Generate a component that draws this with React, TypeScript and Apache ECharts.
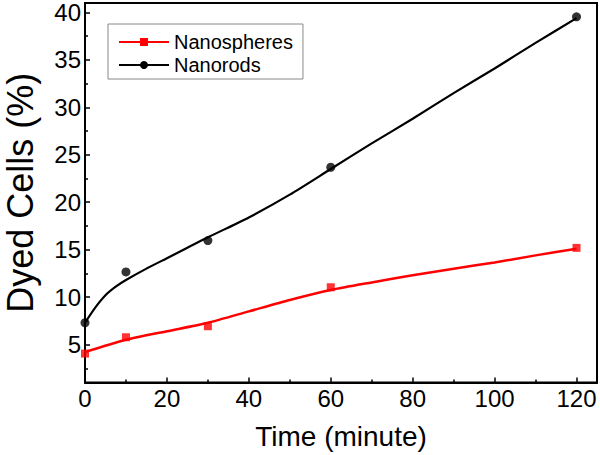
import React, { useEffect, useRef } from "react";
import * as echarts from "echarts";

// Measured data points
const timePoints = [0, 10, 30, 60, 120];
const nanospheresData = [4.05, 5.77, 6.93, 11.04, 15.19];
const nanorodsData = [7.3, 12.66, 15.96, 23.69, 39.54];

// Fitted curves
const sphereFitX = [0, 10, 20, 30, 40, 50, 60, 70, 80, 90, 100, 110, 120];
const sphereFitY = [4.2, 5.5, 6.4, 7.3, 8.5, 9.7, 10.75, 11.55, 12.3, 13.0, 13.65, 14.4, 15.1];
const rodFitX = [0, 2.5, 5, 7.5, 10, 15, 20, 25, 30, 40, 50, 60, 70, 80, 90, 100, 110, 120];
const rodFitY = [7.3, 8.9, 10.2, 11.1, 11.8, 13.0, 14.1, 15.2, 16.3, 18.4, 20.8, 23.5, 26.2, 28.8, 31.5, 34.1, 36.8, 39.4];

// Ticks
const xMajorTicks = [0, 20, 40, 60, 80, 100, 120];
const xMinorTicks = [10, 30, 50, 70, 90, 110];
const yMajorTicks = [5, 10, 15, 20, 25, 30, 35, 40];
const yMinorTicks = [2.5, 7.5, 12.5, 17.5, 22.5, 27.5, 32.5, 37.5];

const seriesNames = ["Nanospheres", "Nanorods"];
const FONT = "'Liberation Sans', Arial, sans-serif";

export default function App() {
  const ref = useRef<HTMLDivElement>(null);
  useEffect(() => {
    if (!ref.current) return;
    const chart = echarts.init(ref.current, null, { renderer: "svg" });
    const zip = (xs: number[], ys: number[]) => xs.map((x, i) => [x, ys[i]]);
    const xCommon = { type: "value", min: 0, max: 125, splitLine: { show: false } };
    const yCommon = { type: "value", min: 1, max: 41, splitLine: { show: false } };
    chart.setOption({
      animation: false,
      backgroundColor: "#ffffff",
      grid: {
        left: 85,
        right: 3,
        top: 3,
        bottom: 72.5,
        outerBoundsMode: "none",
        containLabel: false,
        show: true,
        borderColor: "#000",
        borderWidth: 2,
        backgroundColor: "transparent",
      },
      legend: {
        data: seriesNames,
        orient: "vertical",
        left: 108,
        top: 24,
        borderColor: "#888",
        borderWidth: 1,
        padding: [8, 10, 4, 10],
        itemWidth: 50,
        itemHeight: 10,
        itemGap: 3,
        textStyle: { fontSize: 20, fontFamily: FONT, color: "#000", lineHeight: 20 },
      },
      xAxis: [
        {
          ...xCommon,
          position: "bottom",
          name: "Time (minute)",
          nameLocation: "middle",
          nameGap: 40,
          nameTextStyle: { fontSize: 28, fontFamily: FONT, color: "#000" },
          axisLine: { show: true, lineStyle: { color: "#000", width: 2 } },
          axisTick: { show: true, inside: true, length: 5, customValues: xMajorTicks, lineStyle: { color: "#000", width: 1.5 } },
          axisLabel: { customValues: xMajorTicks, fontSize: 24, fontFamily: FONT, color: "#000", margin: 4 },
        },
        {
          ...xCommon,
          position: "bottom",
          axisLine: { show: false },
          axisTick: { show: true, inside: true, length: 3, customValues: xMinorTicks, lineStyle: { color: "#000", width: 1.5 } },
          axisLabel: { show: false },
        },
      ],
      yAxis: [
        {
          ...yCommon,
          position: "left",
          name: "Dyed Cells (%)",
          nameLocation: "middle",
          nameGap: 47,
          nameTextStyle: { fontSize: 36, lineHeight: 36, fontFamily: FONT, color: "#000" },
          axisLine: { show: true, lineStyle: { color: "#000", width: 2 } },
          axisTick: { show: true, inside: true, length: 5, customValues: yMajorTicks, lineStyle: { color: "#000", width: 1.5 } },
          axisLabel: { customValues: yMajorTicks, fontSize: 24, fontFamily: FONT, color: "#000", margin: 4 },
        },
        {
          ...yCommon,
          position: "left",
          axisLine: { show: false },
          axisTick: { show: true, inside: true, length: 3, customValues: yMinorTicks, lineStyle: { color: "#000", width: 1.5 } },
          axisLabel: { show: false },
        },
      ],
      series: [
        {
          name: seriesNames[0],
          type: "line",
          data: zip(sphereFitX, sphereFitY),
          smooth: 0.25,
          symbol: "rect",
          showSymbol: false,
          color: "#ff0000",
          lineStyle: { color: "#ff0000", width: 2.5 },
          itemStyle: { color: "#ff0000" },
          z: 3,
        },
        {
          name: seriesNames[1],
          type: "line",
          data: zip(rodFitX, rodFitY),
          smooth: 0.25,
          symbol: "circle",
          showSymbol: false,
          color: "#000000",
          lineStyle: { color: "#000000", width: 2.2 },
          itemStyle: { color: "#000000" },
          z: 3,
        },
        {
          name: seriesNames[0],
          type: "scatter",
          data: zip(timePoints, nanospheresData),
          symbol: "rect",
          symbolSize: 8,
          itemStyle: { color: "#ff0000" },
          z: 4,
        },
        {
          name: seriesNames[1],
          type: "scatter",
          data: zip(timePoints, nanorodsData),
          symbol: "circle",
          symbolSize: 9,
          itemStyle: { color: "#000000" },
          z: 4,
        },
      ],
    });
    return () => chart.dispose();
  }, []);
  return (
    <div
      ref={ref}
      style={{ position: "fixed", left: 0, top: 0, width: 600, height: 455, background: "#fff" }}
    />
  );
}
